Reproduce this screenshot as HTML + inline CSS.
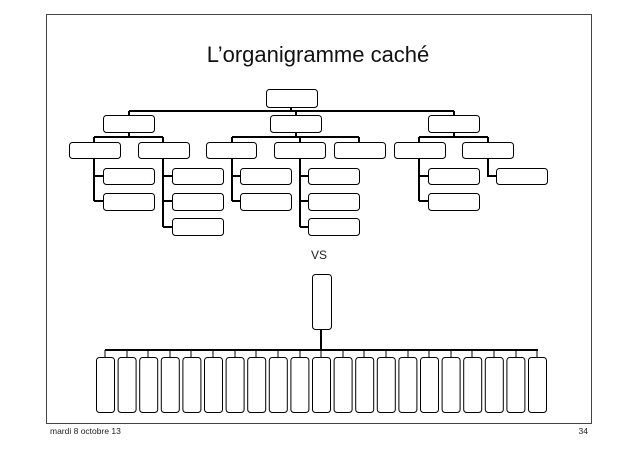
<!DOCTYPE html>
<html><head><meta charset="utf-8"><style>
html,body{margin:0;padding:0;background:#fff;width:638px;height:451px;overflow:hidden}
</style></head><body>
<svg width="638" height="451" viewBox="0 0 638 451" xmlns="http://www.w3.org/2000/svg">
<rect x="46.5" y="14.5" width="545" height="409" fill="none" stroke="#444" stroke-width="1"/>
<text x="318" y="62" text-anchor="middle" font-family="Liberation Sans, sans-serif" font-size="22" fill="#111">L’organigramme caché</text>
<g fill="none" stroke="#000" stroke-width="2">
<path d="M291 107V111M129 111H454M129 111V115M296 111V115M454 111V115"/>
<path d="M129 132V137M94 137H163M94 137V142M163 137V142"/>
<path d="M296 132V137M232 137H359M232 137V142M300 137V142M359 137V142"/>
<path d="M454 132V137M419 137H488M419 137V142M488 137V142"/>
<path d="M94 158V201M94 176H103M94 201H103"/>
<path d="M163 158V227M163 176H172M163 201H172M163 227H172"/>
<path d="M232 158V201M232 176H240M232 201H240"/>
<path d="M300 158V227M300 176H308M300 201H308M300 227H308"/>
<path d="M419 158V201M419 176H428M419 201H428"/>
<path d="M488 158V176H496"/>
<path d="M321 330V350"/>
</g>
<g fill="#fff" stroke="#000" stroke-width="1">
<rect x="266.5" y="89.5" width="51" height="18" rx="3"/>
<rect x="103.5" y="115.5" width="51" height="17" rx="3"/>
<rect x="270.5" y="115.5" width="51" height="17" rx="3"/>
<rect x="428.5" y="115.5" width="51" height="17" rx="3"/>
<rect x="69.5" y="142.5" width="51" height="16" rx="3"/>
<rect x="138.5" y="142.5" width="51" height="16" rx="3"/>
<rect x="206.5" y="142.5" width="50" height="16" rx="3"/>
<rect x="274.5" y="142.5" width="51" height="16" rx="3"/>
<rect x="334.5" y="142.5" width="51" height="16" rx="3"/>
<rect x="394.5" y="142.5" width="51" height="16" rx="3"/>
<rect x="462.5" y="142.5" width="51" height="16" rx="3"/>
<rect x="103.5" y="168.5" width="51" height="16" rx="3"/>
<rect x="103.5" y="193.5" width="51" height="17" rx="3"/>
<rect x="172.5" y="168.5" width="51" height="16" rx="3"/>
<rect x="172.5" y="193.5" width="51" height="17" rx="3"/>
<rect x="172.5" y="218.5" width="51" height="17" rx="3"/>
<rect x="240.5" y="168.5" width="51" height="16" rx="3"/>
<rect x="240.5" y="193.5" width="51" height="17" rx="3"/>
<rect x="308.5" y="168.5" width="51" height="16" rx="3"/>
<rect x="308.5" y="193.5" width="51" height="17" rx="3"/>
<rect x="308.5" y="218.5" width="51" height="17" rx="3"/>
<rect x="428.5" y="168.5" width="51" height="16" rx="3"/>
<rect x="428.5" y="193.5" width="51" height="17" rx="3"/>
<rect x="496.5" y="168.5" width="51" height="16" rx="3"/>
<rect x="312.5" y="274.5" width="19" height="55" rx="3"/>
</g>
<text x="319" y="259" text-anchor="middle" font-family="Liberation Sans, sans-serif" font-size="12" fill="#222">VS</text>
<g id="bot"></g>
<path d="M105 350H538" stroke="#000" stroke-width="2"/>
<g fill="#fff" stroke="#000" stroke-width="1">
<script>
</script>
</g>
<g stroke="#000" stroke-width="1" fill="#fff">
<path d="M105 350V357M127 350V357M148 350V357M170 350V357M191 350V357M213 350V357M235 350V357M256 350V357M278 350V357M300 350V357M321 350V357M343 350V357M364 350V357M386 350V357M408 350V357M429 350V357M451 350V357M472 350V357M494 350V357M516 350V357M537 350V357"/>
<rect x="96.5" y="357.5" width="18" height="55" rx="3"/>
<rect x="118.1" y="357.5" width="18" height="55" rx="3"/>
<rect x="139.7" y="357.5" width="18" height="55" rx="3"/>
<rect x="161.3" y="357.5" width="18" height="55" rx="3"/>
<rect x="182.9" y="357.5" width="18" height="55" rx="3"/>
<rect x="204.5" y="357.5" width="18" height="55" rx="3"/>
<rect x="226.1" y="357.5" width="18" height="55" rx="3"/>
<rect x="247.7" y="357.5" width="18" height="55" rx="3"/>
<rect x="269.3" y="357.5" width="18" height="55" rx="3"/>
<rect x="290.9" y="357.5" width="18" height="55" rx="3"/>
<rect x="312.5" y="357.5" width="18" height="55" rx="3"/>
<rect x="334.1" y="357.5" width="18" height="55" rx="3"/>
<rect x="355.7" y="357.5" width="18" height="55" rx="3"/>
<rect x="377.3" y="357.5" width="18" height="55" rx="3"/>
<rect x="398.9" y="357.5" width="18" height="55" rx="3"/>
<rect x="420.5" y="357.5" width="18" height="55" rx="3"/>
<rect x="442.1" y="357.5" width="18" height="55" rx="3"/>
<rect x="463.7" y="357.5" width="18" height="55" rx="3"/>
<rect x="485.3" y="357.5" width="18" height="55" rx="3"/>
<rect x="506.9" y="357.5" width="18" height="55" rx="3"/>
<rect x="528.5" y="357.5" width="18" height="55" rx="3"/>
</g>
<text x="50" y="434" font-family="Liberation Sans, sans-serif" font-size="8.5" fill="#222">mardi 8 octobre 13</text>
<text x="588" y="434" text-anchor="end" font-family="Liberation Sans, sans-serif" font-size="8.5" fill="#222">34</text>
</svg>
</body></html>
